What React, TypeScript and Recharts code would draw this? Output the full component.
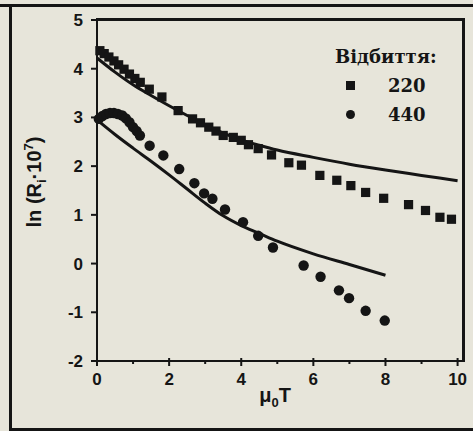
import React from "react"
import { ComposedChart, Scatter, Line, XAxis, YAxis, ZAxis } from "recharts"

// measured reflections (mu0T, ln(R*10^7))
const r220X = [0.08, 0.2, 0.33, 0.47, 0.6, 0.75, 0.9, 1.05, 1.2, 1.45, 1.8, 2.25, 2.65, 2.87, 3.1, 3.3, 3.5, 3.78, 4.0, 4.2, 4.47, 4.84, 5.32, 5.67, 6.18, 6.65, 7.04, 7.45, 7.95, 8.64, 9.11, 9.51, 9.83]
const r220Y = [4.37, 4.31, 4.24, 4.16, 4.08, 3.99, 3.89, 3.8, 3.72, 3.58, 3.42, 3.14, 2.97, 2.89, 2.8, 2.72, 2.63, 2.59, 2.53, 2.44, 2.36, 2.23, 2.07, 2.02, 1.81, 1.71, 1.6, 1.46, 1.34, 1.21, 1.09, 0.95, 0.91]

const r440X = [0.05, 0.15, 0.25, 0.36, 0.47, 0.58, 0.7, 0.8, 0.9, 1.0, 1.1, 1.19, 1.46, 1.84, 2.28, 2.7, 2.97, 3.2, 3.55, 4.05, 4.47, 4.88, 5.73, 6.2, 6.71, 6.99, 7.45, 7.98]
const r440Y = [2.97, 3.03, 3.07, 3.09, 3.09, 3.07, 3.04, 2.98, 2.9, 2.8, 2.72, 2.63, 2.42, 2.22, 1.94, 1.65, 1.44, 1.33, 1.11, 0.85, 0.57, 0.33, -0.04, -0.27, -0.55, -0.71, -0.97, -1.17]

// calculated curves
const fit220X = [0, 0.5, 1, 1.5, 2, 2.5, 3, 3.5, 4, 4.5, 5, 6, 7, 8, 9, 10]
const fit220Y = [4.22, 3.93, 3.67, 3.45, 3.24, 3.04, 2.85, 2.68, 2.54, 2.43, 2.33, 2.18, 2.04, 1.92, 1.81, 1.7]
const fit440X = [0, 0.5, 1, 1.5, 2, 2.5, 3, 3.5, 4, 4.5, 5, 6, 7, 8]
const fit440Y = [2.95, 2.65, 2.37, 2.1, 1.82, 1.53, 1.24, 0.98, 0.78, 0.62, 0.46, 0.2, -0.02, -0.24]

const xTicks = [0, 1, 2, 3, 4, 5, 6, 7, 8, 9, 10]
const yTicks = [-2, -1, 0, 1, 2, 3, 4, 5]
const legendTitle = "Відбиття:"
const legendNames = ["220", "440"]

const zip = (xs: number[], ys: number[]) => xs.map((x, i) => ({ x, y: ys[i] }))

const W = 473
const H = 431
const margin = { top: 20, right: 10, bottom: 0, left: 0 }
const yAxisW = 97
const xAxisH = 70

// plot box, from the layout above
const boxL = margin.left + yAxisW
const boxR = W - margin.right
const boxT = margin.top
const boxB = H - margin.bottom - xAxisH

const ink = "#151515"
const paper = "#e7e5da"
const sans = "'Liberation Sans', Arial, sans-serif"
const serif = "'DejaVu Serif', serif"

function XTick(props: any) {
  const { x, y, payload } = props
  const major = payload.value % 2 === 0
  return (
    <g>
      <line x1={x} x2={x} y1={major ? y - 3 : y} y2={y + (major ? 5 : 3)} stroke={ink} strokeWidth={2} />
      {major && (
        <text x={x} y={y + 24} textAnchor="middle" fontFamily={sans} fontWeight="bold" fontSize={17} fill={ink}>
          {payload.value}
        </text>
      )}
    </g>
  )
}

function YLabel() {
  return (
    <text transform="translate(41,182) rotate(-90)" textAnchor="middle" fontFamily={sans} fontWeight="bold" fontSize={20} fill={ink}>
      ln (R
      <tspan fontSize={13} dy={5}>i</tspan>
      <tspan dy={-5}>·10</tspan>
      <tspan fontSize={13} dy={-8}>7</tspan>
      <tspan dy={8}>)</tspan>
    </text>
  )
}

function XLabel() {
  return (
    <text x={275} y={402} textAnchor="middle" fontFamily={sans} fontWeight="bold" fontSize={20} fill={ink}>
      μ
      <tspan fontSize={13} dy={5}>0</tspan>
      <tspan dy={-5}>T</tspan>
    </text>
  )
}

export default function App() {
  return (
    <div style={{ position: "absolute", left: 0, top: 0, width: W, height: H, background: paper, overflow: "hidden" }}>
      <div style={{ position: "absolute", left: 0, top: 4, width: W, height: 3, background: ink }} />
      <div style={{ position: "absolute", left: 9, top: 4, width: 3, height: 427, background: ink }} />
      <div style={{ position: "absolute", left: 9, top: 428, width: 464, height: 3, background: ink }} />
      <ComposedChart width={W} height={H} margin={margin}>
        <XAxis
          dataKey="x"
          type="number"
          domain={[0, 10.15]}
          ticks={xTicks}
          interval={0}
          height={xAxisH}
          tickSize={0}
          tickMargin={0}
          tickLine={false}
          tick={<XTick />}
          axisLine={{ stroke: ink, strokeWidth: 2 }}
        />
        <YAxis
          type="number"
          domain={[-2, 5]}
          ticks={yTicks}
          interval={0}
          width={yAxisW}
          tickSize={6}
          tickMargin={8}
          tickLine={{ stroke: ink, strokeWidth: 2 }}
          tick={{ fill: ink, fontFamily: sans, fontWeight: "bold", fontSize: 17 }}
          axisLine={{ stroke: ink, strokeWidth: 2 }}
        />
        <ZAxis range={[85, 85]} />
        <Line data={zip(fit220X, fit220Y)} dataKey="y" type="monotone" dot={false} stroke={ink} strokeWidth={3} isAnimationActive={false} />
        <Line data={zip(fit440X, fit440Y)} dataKey="y" type="monotone" dot={false} stroke={ink} strokeWidth={3} isAnimationActive={false} />
        <Scatter data={zip(r220X, r220Y)} dataKey="y" shape="square" fill={ink} isAnimationActive={false} />
        <Scatter data={zip(r440X, r440Y)} dataKey="y" shape="circle" fill={ink} isAnimationActive={false} />
        <YLabel />
        <XLabel />
      </ComposedChart>
      {/* top and right edges of the plot box */}
      <div style={{ position: "absolute", left: boxL - 1, top: boxT - 2, width: boxR - boxL + 3, height: 3, background: ink, zIndex: 5 }} />
      <div style={{ position: "absolute", left: boxR - 1, top: boxT - 2, width: 3, height: boxB - boxT + 3, background: ink, zIndex: 5 }} />
      <div style={{ position: "absolute", left: 335, top: 42, fontFamily: serif, fontWeight: "bold", fontSize: 18, color: ink, lineHeight: "29px" }}>
        <div>{legendTitle}</div>
        {legendNames.map((n, i) => (
          <div key={n} style={{ display: "flex", alignItems: "center" }}>
            <span style={{ width: 9, height: 9, marginLeft: 11, background: ink, borderRadius: i === 1 ? "50%" : 0 }} />
            <span style={{ marginLeft: 33 }}>{n}</span>
          </div>
        ))}
      </div>
    </div>
  )
}
